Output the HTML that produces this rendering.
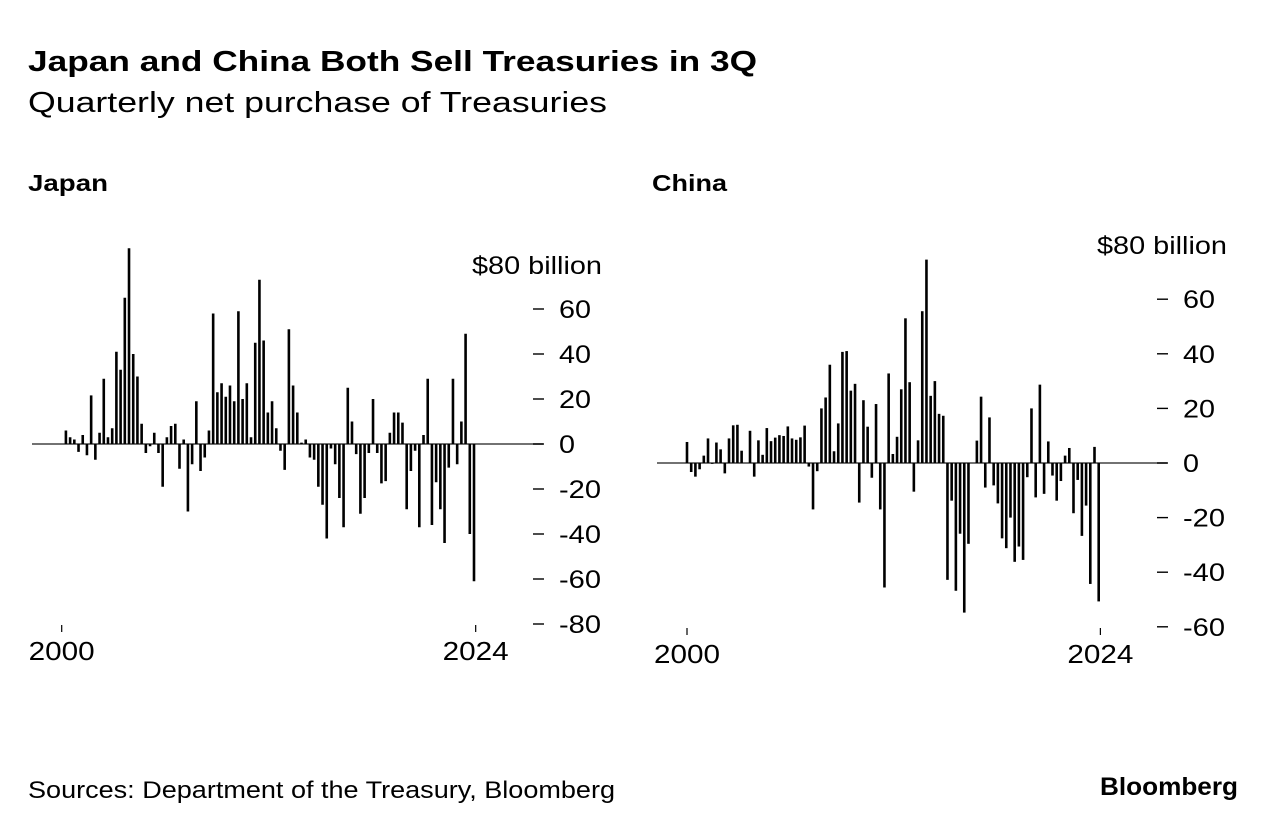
<!DOCTYPE html>
<html><head><meta charset="utf-8"><style>
html,body{margin:0;padding:0;background:#fff;}
body{width:1277px;height:830px;overflow:hidden;font-family:"Liberation Sans",sans-serif;color:#000;}
svg text{font-family:"Liberation Sans",sans-serif;}
</style></head><body>
<svg id="chart" width="1277" height="830" xmlns="http://www.w3.org/2000/svg">
<text x="28" y="71" font-size="29" font-weight="bold" textLength="729" lengthAdjust="spacingAndGlyphs">Japan and China Both Sell Treasuries in 3Q</text>
<text x="28" y="112" font-size="29" textLength="579" lengthAdjust="spacingAndGlyphs">Quarterly net purchase of Treasuries</text>
<text x="28" y="191" font-size="23" font-weight="bold" textLength="80" lengthAdjust="spacingAndGlyphs">Japan</text>
<text x="652" y="191" font-size="23" font-weight="bold" textLength="75" lengthAdjust="spacingAndGlyphs">China</text>
<text x="28" y="798" font-size="24" textLength="587" lengthAdjust="spacingAndGlyphs">Sources: Department of the Treasury, Bloomberg</text>
<text x="1100" y="795" font-size="25" font-weight="bold" textLength="138" lengthAdjust="spacingAndGlyphs">Bloomberg</text>
<g id="japan"></g>
<g id="china"></g>
</svg>
<script>
const japanValues=[0,6,3,2,-3.5,4,-5,21.6,-7,5,29,3,7,41,33,65,87,40,30,9,-4,-1,5,-4,-19,3,8,9,-11,2,-30,-9,19,-12,-6,6,58,23,27,21,26,19,59,20,27,3,45,73,46,14,19,7,-3,-11.5,51,26,14,0.6,2,-6,-7,-19,-27,-42,-2,-9,-24,-37,25,10,-4.5,-31,-24,-4,20,-4,-17.5,-16.5,5,14,14,9.5,-29,-12,-3,-37,4,29,-36,-17,-29,-44,-10.5,29,-9,10,49,-40,-61];
const chinaValues=[7.7,-3.3,-5,-2.3,2.7,9,-0.3,7.5,5,-3.8,9,13.8,14,4.5,0,11.8,-5,8.3,3,12.8,8,9.3,10.2,9.9,13.4,9,8.5,9.4,13.7,-1.3,-17,-3,20,24,36,4.3,14.5,40.7,41,26.5,29,-14.5,23,13.3,-5.4,21.6,-17,-45.6,32.8,3.3,9.6,27,53,29.6,-10.5,8.3,55.6,74.5,24.6,30,18,17.3,-42.8,-13.8,-46.8,-25.9,-54.8,-29.6,0,8.2,24.3,-9,16.7,-8.2,-14.8,-27.6,-31.2,-20,-36.2,-30.6,-35.5,-5.2,20,-12.6,28.7,-11.3,7.9,-4.6,-13.8,-6.6,2.7,5.5,-18.4,-6.2,-26.7,-15.6,-44.3,5.9,-50.7];
const japanTicks=[60,40,20,0,-20,-40,-60,-80];
const chinaTicks=[60,40,20,0,-20,-40,-60];
const yearLabels=["2000","2024"];
const yearIndex=[0,98.4];
const NS="http://www.w3.org/2000/svg";
function el(g,tag,attrs,txt){const e=document.createElementNS(NS,tag);for(const k in attrs)e.setAttribute(k,attrs[k]);if(txt!=null)e.textContent=txt;g.appendChild(e);return e;}
function panel(id,vals,ticks,cfg){
  const g=document.getElementById(id);
  const y=v=>cfg.zeroY-v*cfg.ppu;
  const x=i=>cfg.x0+i*(cfg.x1-cfg.x0)/(vals.length-1);
  const base=el(g,'line',{x1:cfg.bx0,x2:cfg.bx1,y1:y(0),y2:y(0),stroke:'#444','stroke-width':1.4});
  
  
  vals.forEach((v,i)=>{
    const r=el(g,'rect',{x:x(i)-1.3,y:Math.min(y(v),y(0)),width:2.6,height:Math.abs(y(v)-y(0)),fill:'#000'});
    
    
  });
  ticks.forEach(t=>{
    const d=el(g,'line',{x1:cfg.dash,x2:cfg.dash+11,y1:y(t),y2:y(t),stroke:'#000','stroke-width':1.4});
    
    
    const s=String(t);
    const l=el(g,'text',{x:cfg.dash+26,y:y(t)+9,'font-size':25,textLength:(s.length*16+(s[0]==='-'?-6:0)),lengthAdjust:'spacingAndGlyphs'},s);
    
    
  });
  const u=el(g,'text',{x:cfg.unitX,y:cfg.unitY,'font-size':25,textLength:130,lengthAdjust:'spacingAndGlyphs'},'$80 billion');
  
  
  yearLabels.forEach((lab,k)=>{
    const xx=x(yearIndex[k]);
    const tk=el(g,'line',{x1:xx,x2:xx,y1:cfg.tickY,y2:cfg.tickY+7,stroke:'#000','stroke-width':1.2});
    
    
    const t=el(g,'text',{x:xx-33,y:cfg.tickY+35,'font-size':26,textLength:66,lengthAdjust:'spacingAndGlyphs'},lab);
    
    
  });
}
panel('japan',japanValues,japanTicks,{zeroY:444,ppu:2.25,x0:61.7,x1:474,bx0:32,bx1:543,dash:533,unitX:472,unitY:274,tickY:625});
panel('china',chinaValues,chinaTicks,{zeroY:463,ppu:2.73,x0:687,x1:1098.7,bx0:657,bx1:1167,dash:1157,unitX:1097,unitY:254,tickY:628});
</script>
</body></html>
